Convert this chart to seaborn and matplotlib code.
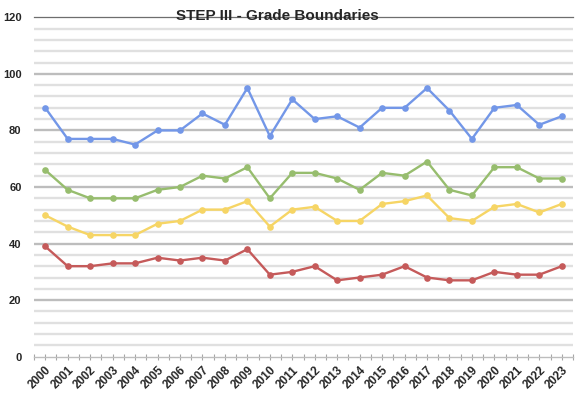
import matplotlib
matplotlib.use("Agg")
import matplotlib.pyplot as plt
from matplotlib.ticker import MultipleLocator, FixedLocator
import seaborn as sns
import pandas as pd

years = [str(y) for y in range(2000, 2024)]
grade_s = [88, 77, 77, 77, 75, 80, 80, 86, 82, 95, 78, 91, 84, 85, 81, 88, 88, 95, 87, 77, 88, 89, 82, 85]
grade_1 = [66, 59, 56, 56, 56, 59, 60, 64, 63, 67, 56, 65, 65, 63, 59, 65, 64, 69, 59, 57, 67, 67, 63, 63]
grade_2 = [50, 46, 43, 43, 43, 47, 48, 52, 52, 55, 46, 52, 53, 48, 48, 54, 55, 57, 49, 48, 53, 54, 51, 54]
grade_3 = [39, 32, 32, 33, 33, 35, 34, 35, 34, 38, 29, 30, 32, 27, 28, 29, 32, 28, 27, 27, 30, 29, 29, 32]

series_names = ["S", "1", "2", "3"]
colors = ["#7397E8", "#97BD6E", "#F6D565", "#C55A5A"]

rows = []
for name, vals in zip(series_names, [grade_s, grade_1, grade_2, grade_3]):
    for i, (yr, v) in enumerate(zip(years, vals)):
        rows.append({"idx": i, "year": yr, "grade": name, "value": v})
df = pd.DataFrame(rows)

sns.set_style("white")
plt.rcParams["font.family"] = ["Liberation Sans", "DejaVu Sans"]

fig = plt.figure(figsize=(5.86, 3.99), dpi=100)
ax = fig.add_axes([34/586, 1-356.7/399, (573-34)/586, (356.7-17.3)/399])

# gridlines
for v in range(4, 120, 4):
    if v % 20 == 0:
        ax.axhline(v, color="#BDBDBD", lw=1.7, zorder=0)
    else:
        ax.axhline(v, color="#E0E0E0", lw=1.7, zorder=0)

sns.lineplot(data=df, x="idx", y="value", hue="grade", palette=colors,
             marker="o", markersize=4.8, markeredgewidth=0, linewidth=1.7,
             legend=False, ax=ax, zorder=3)

ax.set_xlim(-0.5, len(years) - 0.5)
ax.set_ylim(0, 120)
ax.yaxis.set_major_locator(MultipleLocator(20))
ax.set_xticks(range(len(years)))
ax.set_xticklabels(years, rotation=45, ha="right", rotation_mode="anchor",
                   fontsize=8.5, fontweight="bold")
ax.xaxis.set_minor_locator(FixedLocator([i - 0.5 for i in range(len(years) + 1)]))
for lab in ax.get_yticklabels():
    lab.set_fontweight("bold")
    lab.set_fontsize(8)
ax.tick_params(axis="y", length=0, pad=9)
ax.tick_params(axis="x", which="both", direction="inout", length=5, width=0.8,
               color="#A6A6A6", pad=3, bottom=True)
ax.set_xlabel("")
ax.set_ylabel("")

for s in ["left", "right"]:
    ax.spines[s].set_visible(False)
ax.spines["top"].set_color("#6E6E6E")
ax.spines["top"].set_linewidth(0.9)
ax.spines["bottom"].set_color("#BDBDBD")
ax.spines["bottom"].set_linewidth(1.0)

fig.text(277/586, 1-16.5/399, "STEP III - Grade Boundaries", ha="center", va="center",
         fontsize=11, fontweight="bold", zorder=10)

fig.savefig("out.png", dpi=100)
